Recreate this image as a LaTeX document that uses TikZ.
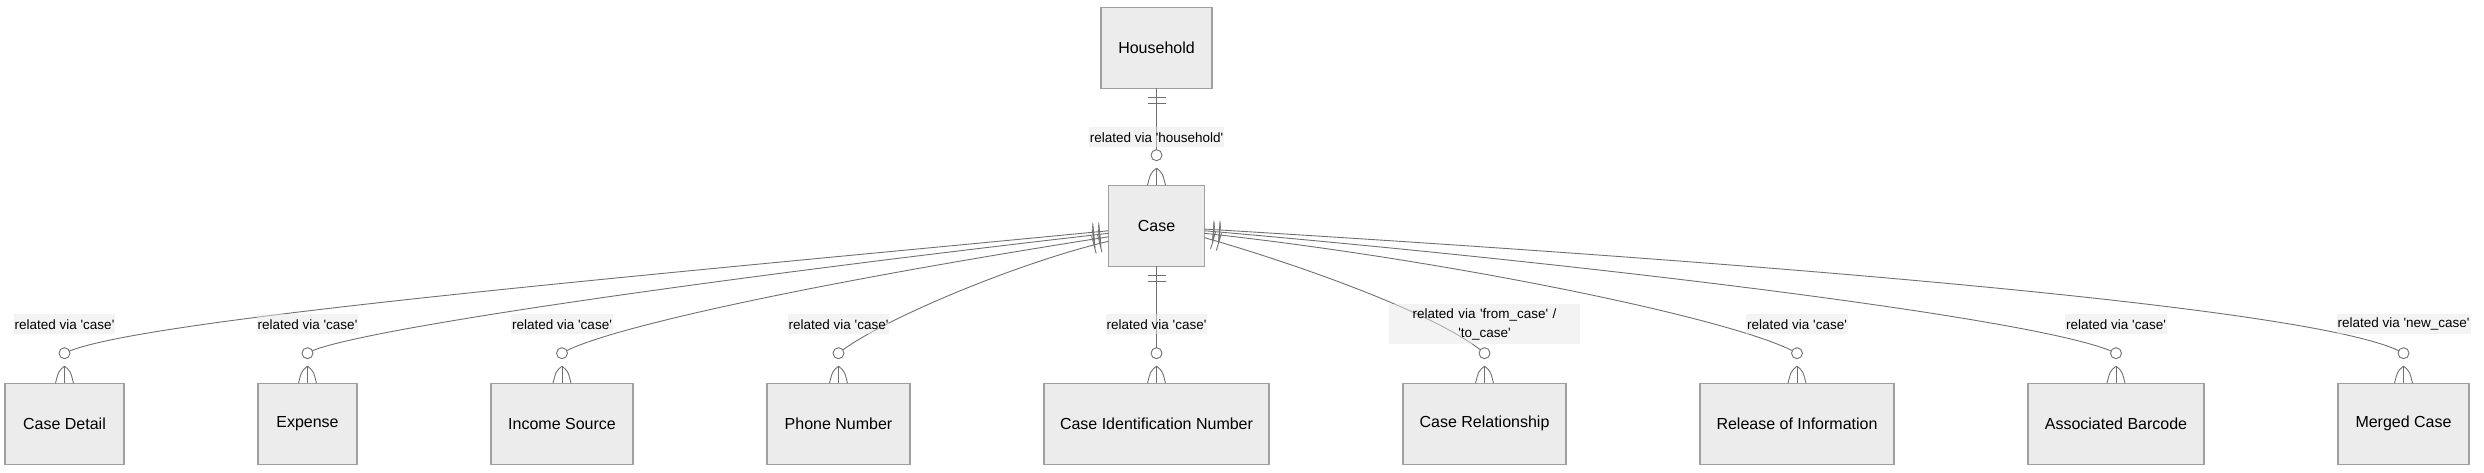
\documentclass[tikz,border=0pt]{standalone}
\usepackage{fontspec}
\setmainfont{Liberation Sans}[Ligatures=TeXOff]
\usetikzlibrary{positioning, decorations.markings}
\definecolor{boxfill}{HTML}{ECECEC}
\definecolor{boxline}{HTML}{A0A0A0}
\definecolor{wire}{HTML}{707070}
\definecolor{tagbg}{HTML}{E8E8E8}

\begin{document}
\begin{tikzpicture}[x=1pt, y=-1pt]
\tikzstyle{entity}=[rectangle, draw=boxline, fill=boxfill, line width=1.3pt, minimum height=81pt, inner sep=0pt, outer sep=0pt, font=\fontsize{16pt}{19pt}\selectfont]
\tikzstyle{tag}=[fill=tagbg, fill opacity=0.5, text opacity=1, inner xsep=1pt, inner ysep=0pt, outer sep=0pt, minimum height=20pt, font=\fontsize{13.5pt}{19.5pt}\selectfont]
\tikzstyle{link}=[draw=wire, line width=0.9pt]
\tikzstyle{onlyone}=[postaction={decorate, decoration={markings,
    mark=at position 9pt with {\draw[wire, line width=0.9pt] (0pt,-9pt) -- (0pt,9pt);},
    mark=at position 15pt with {\draw[wire, line width=0.9pt] (0pt,-9pt) -- (0pt,9pt);}}}]
\tikzset{crow/.pic={
    \draw[link] (0pt,17pt) -- (0pt,0pt);
    \draw[link] (0pt,17pt) .. controls (6pt,12pt) .. (9pt,0pt);
    \draw[link] (0pt,17pt) .. controls (-6pt,12pt) .. (-9pt,0pt);
    \draw[link, fill=white] (0pt,30pt) circle (5.5pt);
}}
\useasboundingbox (0,0) rectangle (2484,473);

    % entities
    \node[entity, minimum width=111pt] (household) at (1156.5,47.7) {Household};
    \node[entity, minimum width=96pt, below=97pt of household] (case) {Case};
    \node[entity, minimum width=225pt, below=117pt of case] (cin) {Case Identification Number};
    \node[entity, minimum width=143pt, left=134pt of cin] (phone) {Phone Number};
    \node[entity, minimum width=142pt, left=134pt of phone] (income) {Income Source};
    \node[entity, minimum width=99pt, left=134pt of income] (expense) {Expense};
    \node[entity, minimum width=119pt, left=134pt of expense] (detail) {Case Detail};
    \node[entity, minimum width=163pt, right=134pt of cin] (relation) {Case Relationship};
    \node[entity, minimum width=194pt, right=134pt of relation] (release) {Release of Information};
    \node[entity, minimum width=176pt, right=134pt of release] (barcode) {Associated Barcode};
    \node[entity, minimum width=131pt, right=134pt of barcode] (merged) {Merged Case};

    % ends of the connectors (centre of the circles)
    \coordinate[above=30pt of case] (case-o);
    \coordinate[above=30pt of cin] (cin-o);
    \coordinate[above=30pt of phone] (phone-o);
    \coordinate[above=30pt of income] (income-o);
    \coordinate[above=30pt of expense] (expense-o);
    \coordinate[above=30pt of detail] (detail-o);
    \coordinate[above=30pt of relation] (relation-o);
    \coordinate[above=30pt of release] (release-o);
    \coordinate[above=30pt of barcode] (barcode-o);
    \coordinate[above=30pt of merged] (merged-o);

    % connectors
    \draw[link, onlyone] (household.south) -- (case-o);
    \draw[link, onlyone] (case.south) -- (cin-o);
    \draw[link, onlyone] (case.186) .. controls (650,275) and (130,320) .. (detail-o);
    \draw[link, onlyone] (case.189) .. controls (700,280) and (340,332) .. (expense-o);
    \draw[link, onlyone] (case.193) .. controls (800,285) and (600,330) .. (income-o);
    \draw[link, onlyone] (case.198) .. controls (1020,262) and (880,320) .. (phone-o);
    \draw[link, onlyone] (case.346) .. controls (1300,265) and (1440,315) .. (relation-o);
    \draw[link, onlyone] (case.351) .. controls (1450,260) and (1740,320) .. (release-o);
    \draw[link, onlyone] (case.354) .. controls (1600,265) and (2050,320) .. (barcode-o);
    \draw[link, onlyone] (case.356) .. controls (1800,265) and (2330,310) .. (merged-o);

    \pic at (case.north) {crow};
    \pic at (cin.north) {crow};
    \pic at (phone.north) {crow};
    \pic at (income.north) {crow};
    \pic at (expense.north) {crow};
    \pic at (detail.north) {crow};
    \pic at (relation.north) {crow};
    \pic at (release.north) {crow};
    \pic at (barcode.north) {crow};
    \pic at (merged.north) {crow};

    % labels
    \node[tag, above=38pt of case] (case-l) {related via 'household'};
    \node[tag, above=49pt of cin] (cin-l) {related via 'case'};
    \node[tag, above=49pt of phone] (phone-l) {related via 'case'};
    \node[tag, above=49pt of income] (income-l) {related via 'case'};
    \node[tag, above=49pt of expense] (expense-l) {related via 'case'};
    \node[tag, above=49pt of detail] (detail-l) {related via 'case'};
    \node[tag, above=39pt of relation, text width=189pt, align=center, minimum height=40pt] (relation-l) {related via 'from\_case' /\\'to\_case'};
    \node[tag, above=49pt of release] (release-l) {related via 'case'};
    \node[tag, above=49pt of barcode] (barcode-l) {related via 'case'};
    \node[tag, above=49pt of merged] (merged-l) {related via 'new\_case'};
\end{tikzpicture}
\end{document}
